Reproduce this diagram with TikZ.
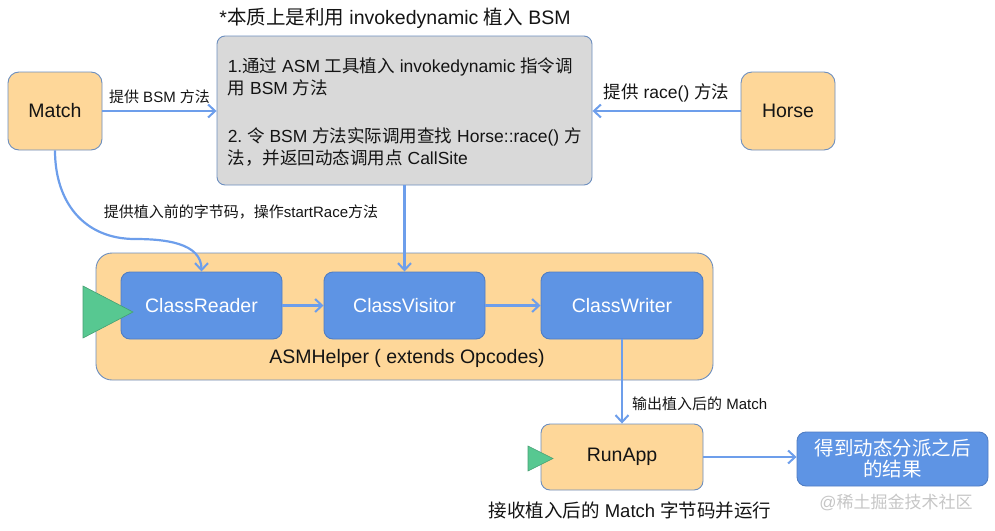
\documentclass[tikz,border=0pt]{standalone}
\usepackage{fontspec}
\setmainfont{Liberation Sans}
\newfontfamily\latinfont{Liberation Sans}
\newfontfamily\cjkfont{Noto Sans CJK SC}
\usetikzlibrary{arrows.meta}

% switch to the CJK face for ideographs and full-width punctuation
\XeTeXinterchartokenstate=1
\newcount\cjkidx
\cjkidx="4E00
\loop
  \XeTeXcharclass\cjkidx=1
  \advance\cjkidx by 1
\ifnum\cjkidx<"A000 \repeat
\XeTeXcharclass"FF0C=3
\XeTeXcharclass"3001=3
\XeTeXcharclass"3002=3
\XeTeXinterchartoks 0 1 = {\cjkfont}
\XeTeXinterchartoks 4095 1 = {\cjkfont}
\XeTeXinterchartoks 1 0 = {\latinfont}
\XeTeXinterchartoks 1 4095 = {\latinfont}
\XeTeXinterchartoks 0 3 = {\cjkfont}
\XeTeXinterchartoks 4095 3 = {\cjkfont}
\XeTeXinterchartoks 3 0 = {\latinfont}
\XeTeXinterchartoks 3 4095 = {\latinfont}

\definecolor{orangefill}{RGB}{254,215,153}
\definecolor{boxline}{RGB}{108,142,191}
\definecolor{bluefill}{RGB}{94,148,228}
\definecolor{blueline}{RGB}{80,125,195}
\definecolor{grayfill}{RGB}{217,217,217}
\definecolor{flowline}{RGB}{109,158,235}
\definecolor{startgreen}{RGB}{87,200,145}
\definecolor{startline}{RGB}{70,160,115}
\definecolor{labelink}{RGB}{20,20,20}

\begin{document}
\frenchspacing
\begin{tikzpicture}[
  x=1pt, y=-1pt,
  orangebox/.style={draw=boxline, fill=orangefill, line width=0.9pt,
    rounded corners=11pt, inner sep=0pt, text=labelink,
    font=\fontsize{19.5}{23}\selectfont},
  bluebox/.style={draw=blueline, fill=bluefill, line width=0.9pt,
    rounded corners=9pt, inner sep=0pt, text=white,
    font=\fontsize{19.5}{23}\selectfont},
  flow/.style={draw=flowline, line width=2.2pt,
    -{Straight Barb[length=7pt,width=13pt,line width=2pt]}},
  link/.style={draw=flowline, line width=2.2pt},
  startmark/.style={draw=startline, fill=startgreen, line width=0.6pt},
  lab/.style={text=labelink, inner sep=1pt, font=\fontsize{15}{18}\selectfont},
  biglab/.style={text=labelink, inner sep=1pt, font=\fontsize{17.5}{21}\selectfont},
]

  % --- frame, same size as the reference ---
  \path[use as bounding box] (0,0) rectangle (995,530);

  % --- top row ---
  \node[biglab, font=\fontsize{19.5}{23}\selectfont] (title) at (395,18)
    {*本质上是利用 invokedynamic 植入 BSM};
  \node[draw=boxline, fill=grayfill, line width=0.9pt, rounded corners=8pt,
    minimum width=375pt, minimum height=149pt] (bsm) at (404.5,110.5) {};
  \node[anchor=west, align=left, inner sep=0pt, text=labelink,
    font=\fontsize{17.5}{22}\selectfont] (bsmtext) at ([xshift=11pt,yshift=-2pt]bsm.west)
    {1.通过 ASM 工具植入 invokedynamic 指令调\\用 BSM 方法\\[26pt]
     2. 令 BSM 方法实际调用查找 Horse::race() 方\\法，并返回动态调用点 CallSite};
  \node[orangebox, minimum width=94pt, minimum height=78pt] (match) at (55,111) {Match};
  \node[orangebox, minimum width=94pt, minimum height=78pt] (horse) at (788,111) {Horse};

  % --- ASMHelper ---
  \node[orangebox, rounded corners=16pt, minimum width=617pt, minimum height=127pt]
    (helper) at (404.5,316.5) {};
  \node[biglab, font=\fontsize{19.5}{23}\selectfont] (helperlab) at (407,358)
    {ASMHelper ( extends Opcodes)};
  \node[bluebox, minimum width=161pt, minimum height=67pt] (reader) at (201.5,305.5) {ClassReader};
  \node[bluebox, minimum width=161pt, minimum height=67pt] (visitor) at (404.5,305.5) {ClassVisitor};
  \node[bluebox, minimum width=162pt, minimum height=67pt] (writer) at (622,305.5) {ClassWriter};
  \draw[startmark] (83,286) -- (133,312) -- (83,338) -- cycle;

  % --- bottom row ---
  \node[orangebox, rounded corners=9pt, minimum width=162pt, minimum height=66pt]
    (runapp) at (622,457) {RunApp};
  \draw[startmark] (528,446) -- (553,458.5) -- (528,471) -- cycle;
  \node[bluebox, rounded corners=9pt, minimum width=191pt, minimum height=54pt,
    align=center, font=\fontsize{19.5}{21}\selectfont] (result) at (892.5,459)
    {得到动态分派之后\\的结果};
  \node[biglab, font=\fontsize{18.5}{22}\selectfont] (runlab) at (630,510)
    {接收植入后的 Match 字节码并运行};
  \node[text=gray!45, inner sep=0pt, font=\fontsize{17}{20}\selectfont] (mark) at (896,502)
    {@稀土掘金技术社区};

  % --- connectors ---
  \draw[flow] (match.east) -- node[lab, above=5pt] {提供 BSM 方法} (bsm.west |- match.east);
  \draw[flow] (horse.west) -- node[biglab, above=7pt] {提供 race() 方法} (bsm.east |- horse.west);
  \coordinate (bend) at (135,239);
  \draw[link] (match.south) to[out=-90, in=180, looseness=1.1] (bend);
  \draw[flow] (bend) to[out=0, in=90] (reader.north);
  \node[lab] (bendlab) at (241,212) {提供植入前的字节码，操作startRace方法};
  \draw[flow] (bsm.south) -- (visitor.north);
  \draw[flow] (reader) -- (visitor);
  \draw[flow] (visitor) -- (writer);
  \draw[flow] (writer.south) -- node[lab, pos=0.77, right=8pt] {输出植入后的 Match} (runapp.north);
  \draw[flow] (runapp.east) -- (result.west |- runapp.east);

\end{tikzpicture}
\end{document}
